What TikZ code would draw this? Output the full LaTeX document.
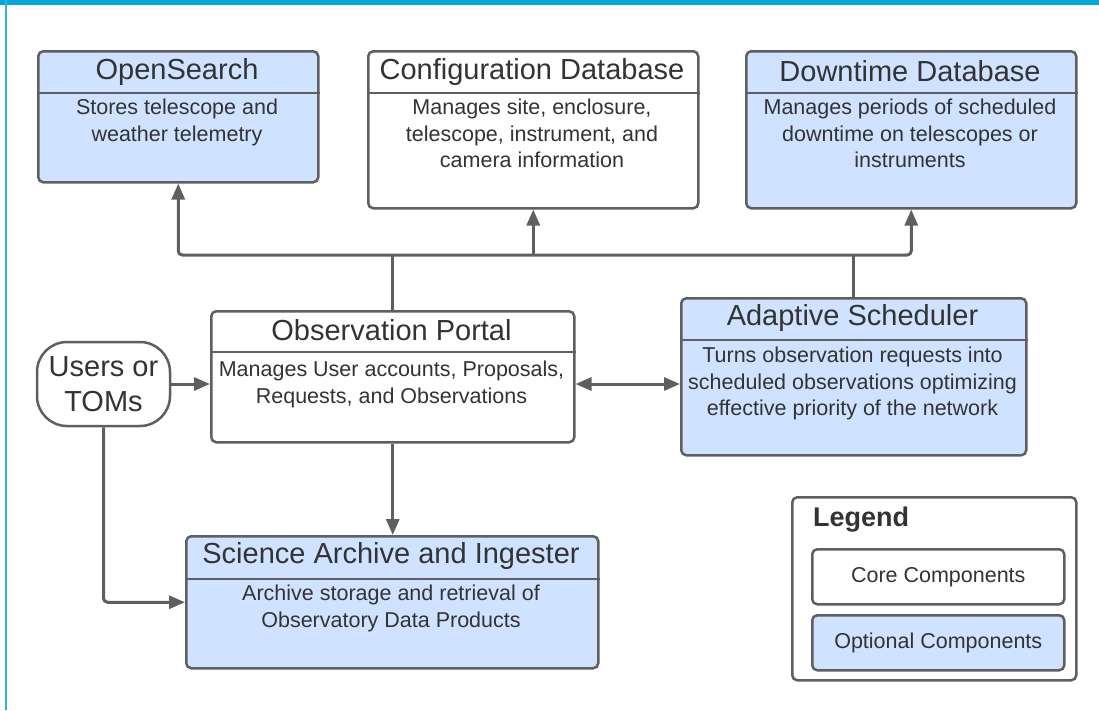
\documentclass[tikz,border=0pt]{standalone}
\usepackage{fontspec}
\setmainfont{Liberation Sans}
\usetikzlibrary{arrows.meta}

\definecolor{linegray}{HTML}{5F5F5F}
\definecolor{textgray}{HTML}{333333}
\definecolor{optblue}{HTML}{CFE2FF}
\definecolor{frame}{HTML}{06A7D8}

\tikzset{
	box/.style={draw=linegray, line width=2.5pt, rounded corners=5pt, anchor=north west, inner sep=0pt},
	corebox/.style={box, fill=white},
	optbox/.style={box, fill=optblue},
	divline/.style={draw=linegray, line width=2.5pt},
	title/.style={font=\fontsize{29}{35}\selectfont, text=textgray, inner sep=0pt},
	body/.style={font=\fontsize{21.5}{26.5}\selectfont, text=textgray, align=center, anchor=north, inner sep=0pt},
	link/.style={draw=linegray, line width=3pt, rounded corners=4pt},
	arr/.style={link, -{Triangle[length=16pt, width=13pt]}},
	dblarr/.style={link, {Triangle[length=16pt, width=13pt]}-{Triangle[length=16pt, width=13pt]}}
}

\begin{document}
\begin{tikzpicture}[x=1pt, y=-1pt]
\useasboundingbox (0,0) rectangle (1099,710);

% Marco
\fill[frame] (0,0) rectangle (1099,5);
\draw[frame!85!white, line width=2pt] (6,0) -- (6,710);

% Cajas superiores
\node[optbox, minimum width=280, minimum height=131] (opensearch) at (37,50) {};
\node[title] at (177,71.5) {OpenSearch};
\draw[divline] (opensearch.west |- 0,93) -- (opensearch.east |- 0,93);
\node[body] at (177,99) {Stores telescope and\\weather telemetry};

\node[corebox, minimum width=330, minimum height=157] (config) at (367,50) {};
\node[title] at (532,71.5) {Configuration Database};
\draw[divline] (config.west |- 0,93) -- (config.east |- 0,93);
\node[body] at (532,99) {Manages site, enclosure,\\telescope, instrument, and\\camera information};

\node[optbox, minimum width=330, minimum height=157] (downtime) at (745,50) {};
\node[title] at (910,71.5) {Downtime Database};
\draw[divline] (downtime.west |- 0,93) -- (downtime.east |- 0,93);
\node[body] at (910,99) {Manages periods of scheduled\\downtime on telescopes or\\instruments};

% Fila central
\node[draw=linegray, line width=2.5pt, rounded corners=30pt, fill=white, minimum width=133, minimum height=84,
	font=\fontsize{29}{35}\selectfont, text=textgray, align=center, inner sep=0pt] (users) at (103.5,384) {Users or\\TOMs};

\node[corebox, minimum width=363, minimum height=131] (portal) at (210,310) {};
\node[title] at (391.5,330) {Observation Portal};
\draw[divline] (portal.west |- 0,352) -- (portal.east |- 0,352);
\node[body] at (391.5,361) {Manages User accounts, Proposals,\\Requests, and Observations};

\node[optbox, minimum width=345, minimum height=157] (sched) at (680,297) {};
\node[title] at (852.5,318) {Adaptive Scheduler};
\draw[divline] (sched.west |- 0,340) -- (sched.east |- 0,340);
\node[body] at (852.5,347) {Turns observation requests into\\scheduled observations optimizing\\effective priority of the network};

% Archivo
\node[optbox, minimum width=412, minimum height=132] (archive) at (185,535) {};
\node[title] at (391,556) {Science Archive and Ingester};
\draw[divline] (archive.west |- 0,579) -- (archive.east |- 0,579);
\node[body] at (391,585) {Archive storage and retrieval of\\Observatory Data Products};

% Leyenda
\node[corebox, minimum width=284, minimum height=183] (legend) at (791,496) {};
\node[font=\fontsize{27}{32}\selectfont\bfseries, text=textgray, anchor=west, inner sep=0pt] (legtitle) at (813,520) {Legend};
\node[corebox, minimum width=252, minimum height=55] (core) at (811,548) {};
\node[font=\fontsize{21.5}{26.5}\selectfont, text=textgray, inner sep=0pt] at (core.center) {Core Components};
\node[optbox, minimum width=252, minimum height=55] (optional) at (811,614) {};
\node[font=\fontsize{21.5}{26.5}\selectfont, text=textgray, inner sep=0pt] at (optional.center) {Optional Components};

% Conexiones
\coordinate (bus) at (0,255);
\draw[dblarr] (opensearch.south) |- (downtime.south |- bus) -- (downtime.south);
\draw[link] (portal.north) -- (portal.north |- bus);
\draw[arr] (config.south |- bus) -- (config.south);
\draw[link] (sched.north) -- (sched.north |- bus);

\draw[arr] (users.east) -- (portal.west |- users.east);
\draw[arr] (users.south) |- (archive.west);
\draw[arr] (portal.south) -- (portal.south |- archive.north);
\draw[dblarr] (portal.east |- users.east) -- (sched.west |- users.east);
\end{tikzpicture}
\end{document}
